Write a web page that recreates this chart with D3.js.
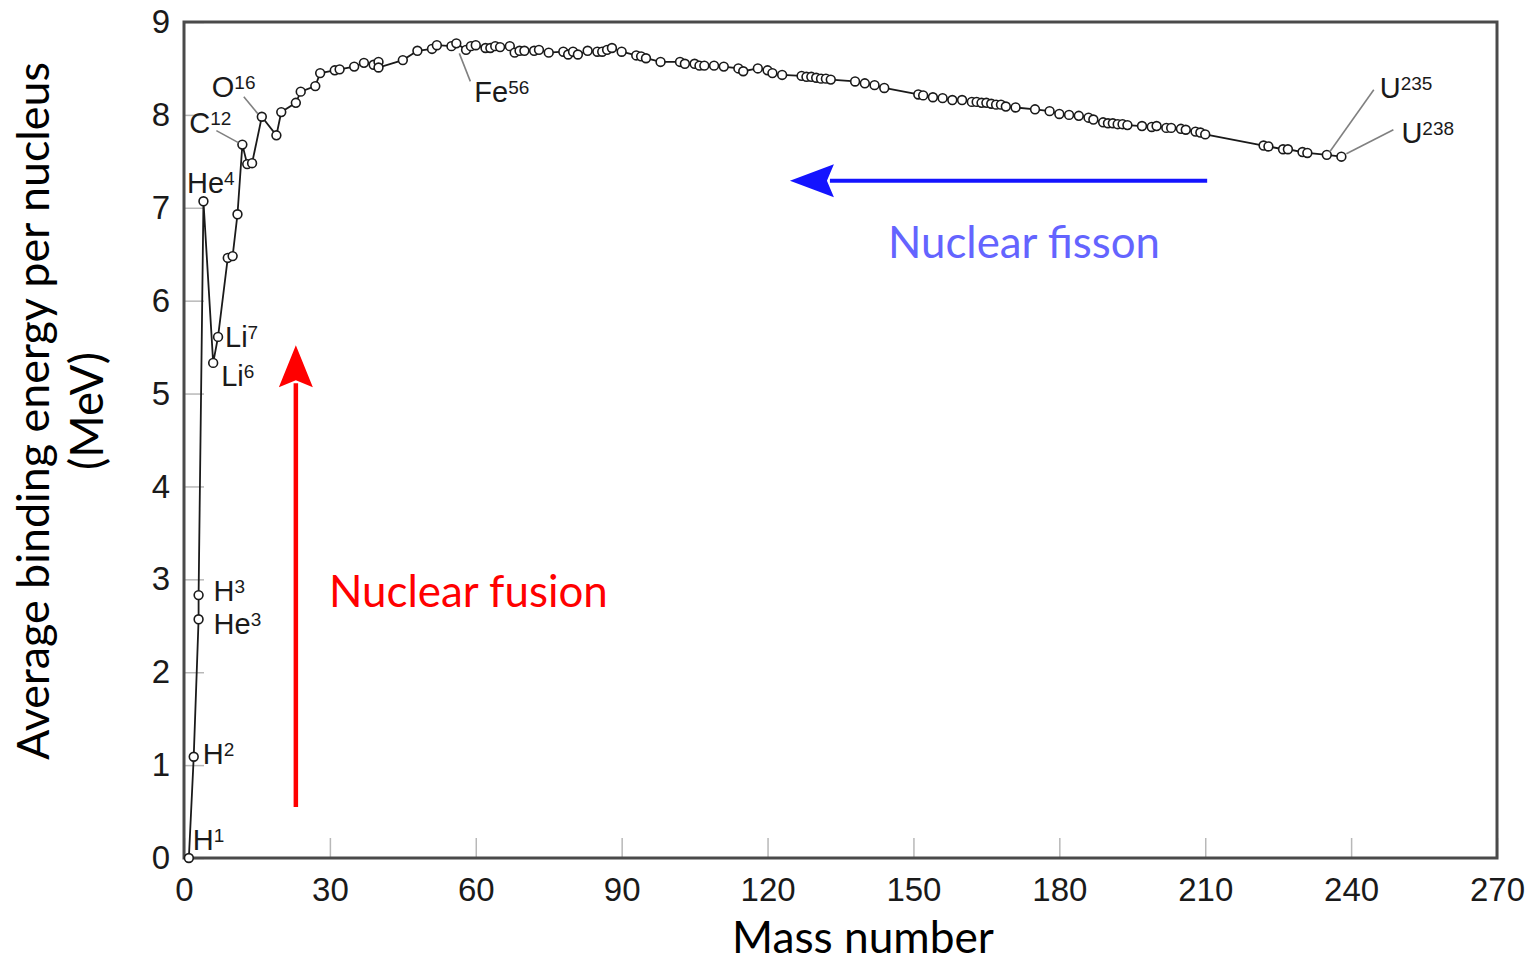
<!DOCTYPE html>
<html>
<head>
<meta charset="utf-8">
<script src="https://cdn.jsdelivr.net/npm/d3@7"></script>
<style>
body { margin: 0; background: #fff; }
svg { display: block; }
</style>
</head>
<body>
<svg id="chart" width="1533" height="964"></svg>
<script>
// average binding energy per nucleon vs mass number

var massNumber = [1, 2, 3, 3, 4, 6, 7, 9, 10, 11, 12, 13, 14, 16, 19, 20, 23, 24, 27, 28,
	31, 32, 35, 37, 39, 40, 40, 45, 48, 51, 52, 55, 56, 58, 59, 60, 62, 63, 64, 65,
	67, 68, 69, 70, 72, 73, 75, 78, 79, 80, 81, 83, 85, 86, 87, 88, 90, 93, 94, 95,
	98, 102, 103, 105, 106, 107, 109, 111, 114, 115, 118, 120, 121, 123, 127, 128, 129, 130, 131, 132,
	133, 138, 140, 142, 144, 151, 152, 154, 156, 158, 160, 162, 163, 164, 165, 166, 167, 168, 169, 171,
	175, 178, 180, 182, 184, 186, 187, 189, 190, 191, 192, 193, 194, 197, 199, 200, 202, 203, 205, 206,
	208, 209, 210, 222, 223, 226, 227, 230, 231, 235, 238];

var bindingEnergy = [0.00, 1.09, 2.57, 2.83, 7.07, 5.33, 5.61, 6.46, 6.48, 6.93, 7.68, 7.47, 7.48, 7.98, 7.78, 8.03, 8.13, 8.25, 8.31, 8.45,
	8.48, 8.49, 8.52, 8.56, 8.54, 8.57, 8.51, 8.59, 8.69, 8.71, 8.75, 8.74, 8.77, 8.70, 8.74, 8.75, 8.72, 8.72, 8.74, 8.73,
	8.74, 8.67, 8.69, 8.69, 8.69, 8.70, 8.67, 8.68, 8.65, 8.68, 8.65, 8.69, 8.68, 8.68, 8.70, 8.72, 8.68, 8.64, 8.63, 8.61,
	8.57, 8.57, 8.55, 8.55, 8.53, 8.53, 8.53, 8.52, 8.50, 8.47, 8.50, 8.48, 8.45, 8.43, 8.42, 8.41, 8.41, 8.40, 8.39, 8.39,
	8.38, 8.36, 8.34, 8.32, 8.29, 8.22, 8.21, 8.19, 8.18, 8.16, 8.16, 8.14, 8.14, 8.13, 8.13, 8.12, 8.11, 8.11, 8.09, 8.08,
	8.06, 8.04, 8.01, 8.00, 7.99, 7.97, 7.95, 7.92, 7.91, 7.91, 7.90, 7.90, 7.89, 7.88, 7.87, 7.88, 7.86, 7.86, 7.85, 7.84,
	7.82, 7.81, 7.79, 7.67, 7.66, 7.63, 7.63, 7.60, 7.59, 7.57, 7.55];

var xTicks = [0, 30, 60, 90, 120, 150, 180, 210, 240, 270];
var yTicks = [0, 1, 2, 3, 4, 5, 6, 7, 8, 9];

// labelled isotopes: symbol, mass shown as superscript, index of its point
var isoSymbols = ['H', 'H', 'He', 'H', 'He', 'Li', 'Li', 'C', 'O', 'Fe', 'U', 'U'];
var isoMasses = ['1', '2', '3', '3', '4', '6', '7', '12', '16', '56', '235', '238'];
var isoPoints = [0, 1, 2, 3, 4, 5, 6, 10, 13, 32, 129, 130];

var xTitle = 'Mass number';
var yTitle = ['Average binding energy per nucleus', '(MeV)'];
var fusionText = 'Nuclear fusion';
var fissionText = 'Nuclear fisson';

var svg = d3.select('#chart');
var mLeft = 184, mRight = 1497, mTop = 22, mBottom = 858;

var x = d3.scaleLinear().domain([0, 270]).range([mLeft, mRight]);
var y = d3.scaleLinear().domain([0, 9]).range([mBottom, mTop]);

var tickFont = '"Liberation Sans", Arial, Helvetica, sans-serif';
var titleFont = 'Lato, "Open Sans", sans-serif';

// axes, ticks pointing inwards
var xAxis = svg.append('g')
	.attr('transform', 'translate(0,' + mBottom + ')')
	.call(d3.axisBottom(x).tickValues(xTicks).tickSize(-20).tickPadding(20));
var yAxis = svg.append('g')
	.attr('transform', 'translate(' + mLeft + ',0)')
	.call(d3.axisLeft(y).tickValues(yTicks).tickSize(-20).tickPadding(14));

[xAxis, yAxis].forEach(function (ax) {
	ax.select('.domain').remove();
	ax.selectAll('.tick line').attr('stroke', '#b8b8b8').attr('stroke-width', 1.5);
	ax.selectAll('.tick text')
		.attr('fill', '#1a1a1a')
		.style('font-family', tickFont)
		.style('font-size', '33px');
});

// frame
svg.append('rect')
	.attr('x', mLeft).attr('y', mTop)
	.attr('width', mRight - mLeft).attr('height', mBottom - mTop)
	.attr('fill', 'none')
	.attr('stroke', '#4a4a4a')
	.attr('stroke-width', 3);

// curve
var pts = massNumber.map(function (a, i) { return [a, bindingEnergy[i]]; });

var line = d3.line()
	.x(function (d) { return x(d[0]); })
	.y(function (d) { return y(d[1]); });

svg.append('path')
	.datum(pts)
	.attr('d', line)
	.attr('fill', 'none')
	.attr('stroke', '#1a1a1a')
	.attr('stroke-width', 1.8);

svg.append('g').selectAll('circle')
	.data(pts)
	.enter().append('circle')
	.attr('cx', function (d) { return x(d[0]); })
	.attr('cy', function (d) { return y(d[1]); })
	.attr('r', 4.4)
	.attr('fill', '#fff')
	.attr('stroke', '#1a1a1a')
	.attr('stroke-width', 1.6);

// isotope labels: offset of label from its point, optional leader line
var labelPos = [
	{dx: 4, dy: -8},
	{dx: 9, dy: 7},
	{dx: 15, dy: 15},
	{dx: 15, dy: 6},
	{dx: -16.5, dy: -8},
	{dx: 8, dy: 23},
	{dx: 7, dy: 10},
	{dx: -53, dy: -12, lead: [-26, -14, -4, -2]},
	{dx: -50, dy: -20, lead: [-18, -20, -4, -3]},
	{dx: 18, dy: 59, lead: [3, 10, 14, 38]},
	{dx: 53, dy: -57, lead: [3, -3, 47, -65]},
	{dx: 60, dy: -14, lead: [5, -3, 52, -27]}
];

var labels = svg.append('g');
isoSymbols.forEach(function (sym, i) {
	var p = pts[isoPoints[i]],
		px = x(p[0]),
		py = y(p[1]),
		pos = labelPos[i];

	if (pos.lead) {
		labels.append('line')
			.attr('x1', px + pos.lead[0]).attr('y1', py + pos.lead[1])
			.attr('x2', px + pos.lead[2]).attr('y2', py + pos.lead[3])
			.attr('stroke', '#808080')
			.attr('stroke-width', 1.6);
	}

	var t = labels.append('text')
		.attr('x', px + pos.dx)
		.attr('y', py + pos.dy)
		.attr('fill', '#1a1a1a')
		.style('font-family', tickFont)
		.style('font-size', '29px')
		.text(sym);
	t.append('tspan')
		.attr('dy', -8)
		.style('font-size', '19px')
		.text(isoMasses[i]);
});

// arrows
function arrow(x1, y1, x2, y2, color, width, headLen, headW) {
	var ang = Math.atan2(y2 - y1, x2 - x1) * 180 / Math.PI;
	var len = Math.sqrt((x2 - x1) * (x2 - x1) + (y2 - y1) * (y2 - y1));
	var g = svg.append('g')
		.attr('transform', 'translate(' + x1 + ',' + y1 + ') rotate(' + ang + ')');
	g.append('line')
		.attr('x1', 0).attr('y1', 0)
		.attr('x2', len - headLen + 4).attr('y2', 0)
		.attr('stroke', color)
		.attr('stroke-width', width);
	g.append('path')
		.attr('d', 'M' + len + ',0 L' + (len - headLen) + ',' + (-headW / 2) +
			' L' + (len - headLen + 7) + ',0 L' + (len - headLen) + ',' + (headW / 2) + 'Z')
		.attr('fill', color);
}

// fusion arrow goes up near A=23, fission arrow goes left at E=7.29
arrow(x(23), y(0.55), x(23), y(5.52), '#ff0000', 4.5, 42, 34);
arrow(x(210.4), y(7.29), x(124.6), y(7.29), '#1414ff', 4, 44, 33);

// text helper: scale font size so the text spans the given width
function fitText(sel, width) {
	var w = sel.node().getComputedTextLength();
	var fs = parseFloat(sel.style('font-size'));
	sel.style('font-size', (fs * width / w) + 'px');
	return sel;
}

fitText(svg.append('text')
	.attr('x', 329).attr('y', 607)
	.attr('fill', '#ff0000')
	.style('font-family', titleFont)
	.style('font-size', '46px')
	.text(fusionText), 279);

fitText(svg.append('text')
	.attr('x', 888).attr('y', 258)
	.attr('fill', '#6464ff')
	.style('font-family', titleFont)
	.style('font-size', '46px')
	.text(fissionText), 272);

// axis titles
fitText(svg.append('text')
	.attr('x', 863).attr('y', 953)
	.attr('text-anchor', 'middle')
	.attr('fill', '#000')
	.style('font-family', titleFont)
	.style('font-size', '46px')
	.text(xTitle), 262);

fitText(svg.append('text')
	.attr('transform', 'translate(49,411) rotate(-90)')
	.attr('text-anchor', 'middle')
	.attr('fill', '#000')
	.style('font-family', titleFont)
	.style('font-size', '46px')
	.text(yTitle[0]), 698);

fitText(svg.append('text')
	.attr('transform', 'translate(103,411) rotate(-90)')
	.attr('text-anchor', 'middle')
	.attr('fill', '#000')
	.style('font-family', titleFont)
	.style('font-size', '46px')
	.text(yTitle[1]), 118);
</script>
</body>
</html>
